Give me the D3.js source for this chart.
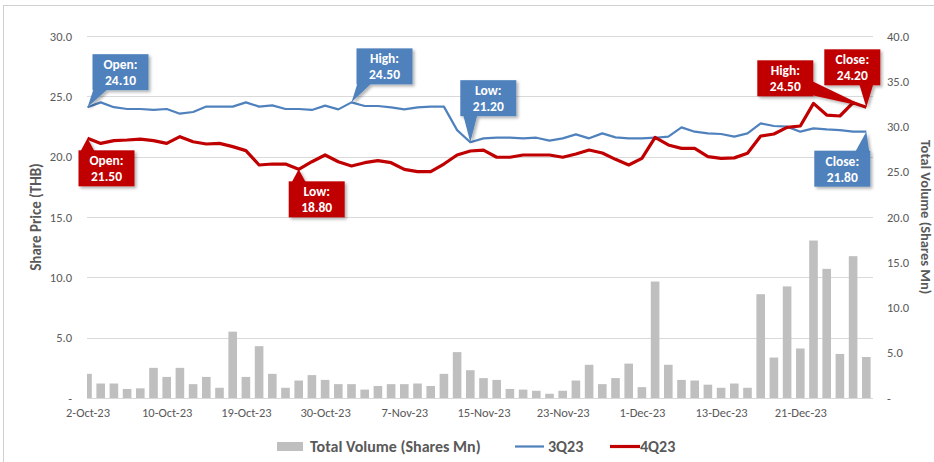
<!DOCTYPE html>
<html>
<head>
<meta charset="utf-8">
<script src="https://cdn.jsdelivr.net/npm/d3@7"></script>
<style>
  body { margin: 0; background: #fff; }
  text { font-family: Calibri, Carlito, "Liberation Sans", Arial, sans-serif; }
</style>
</head>
<body>
<svg id="chart"></svg>
<script>
// trading days, Q4 2023
var dates = ["2-Oct-23","3-Oct-23","4-Oct-23","5-Oct-23","6-Oct-23","9-Oct-23","10-Oct-23","11-Oct-23","12-Oct-23","16-Oct-23",
  "17-Oct-23","18-Oct-23","19-Oct-23","20-Oct-23","24-Oct-23","25-Oct-23","26-Oct-23","27-Oct-23","30-Oct-23","31-Oct-23",
  "1-Nov-23","2-Nov-23","3-Nov-23","6-Nov-23","7-Nov-23","8-Nov-23","9-Nov-23","10-Nov-23","13-Nov-23","14-Nov-23",
  "15-Nov-23","16-Nov-23","17-Nov-23","20-Nov-23","21-Nov-23","22-Nov-23","23-Nov-23","24-Nov-23","27-Nov-23","28-Nov-23",
  "29-Nov-23","30-Nov-23","1-Dec-23","4-Dec-23","6-Dec-23","7-Dec-23","8-Dec-23","12-Dec-23","13-Dec-23","14-Dec-23",
  "15-Dec-23","18-Dec-23","19-Dec-23","20-Dec-23","21-Dec-23","22-Dec-23","25-Dec-23","26-Dec-23","27-Dec-23","28-Dec-23"];

// total volume (shares mn) - right axis
var volume = [2.67,1.6,1.6,1.0,1.07,3.33,2.33,3.33,1.53,2.33,
  1.13,7.33,2.33,5.73,2.67,1.13,1.93,2.53,2.0,1.53,
  1.53,0.93,1.33,1.53,1.53,1.6,1.33,2.67,5.07,3.07,
  2.2,2.0,1.0,0.93,0.8,0.47,0.8,1.93,3.67,1.53,
  2.2,3.8,1.2,12.87,3.67,2.0,1.93,1.47,1.13,1.6,
  1.13,11.47,4.47,12.33,5.47,17.4,14.27,4.87,15.67,4.53];

// share price (THB) - left axis
var price3Q = [24.1,24.5,24.1,23.95,23.95,23.87,23.95,23.56,23.7,24.15,
  24.15,24.15,24.5,24.15,24.25,23.95,23.95,23.87,24.23,23.92,
  24.5,24.2,24.2,24.09,23.92,24.09,24.15,24.15,22.2,21.2,
  21.52,21.57,21.57,21.52,21.57,21.33,21.52,21.85,21.52,21.93,
  21.6,21.52,21.52,21.57,21.66,22.43,22.07,21.93,21.88,21.66,
  21.93,22.76,22.54,22.49,22.07,22.35,22.26,22.2,22.07,22.07];

var price4Q = [21.52,21.1,21.33,21.38,21.46,21.33,21.1,21.66,21.24,21.05,
  21.1,20.83,20.5,19.31,19.39,19.39,18.95,19.58,20.14,19.58,
  19.23,19.5,19.67,19.5,18.95,18.76,18.76,19.39,20.14,20.47,
  20.55,19.95,19.95,20.14,20.14,20.14,19.95,20.22,20.55,20.3,
  19.78,19.31,19.86,21.6,20.97,20.69,20.69,20.0,19.86,19.9,
  20.28,21.71,21.88,22.43,22.54,24.42,23.45,23.37,24.47,24.09];

var leftTicks = [0, 5, 10, 15, 20, 25, 30];
var rightTicks = [0, 5, 10, 15, 20, 25, 30, 35, 40];

// callout labels
var calloutText = [
  { s: "3Q23", i: 0,  t: "Open:",  v: "24.10" },
  { s: "3Q23", i: 20, t: "High:",  v: "24.50" },
  { s: "3Q23", i: 29, t: "Low:",   v: "21.20" },
  { s: "3Q23", i: 59, t: "Close:", v: "21.80" },
  { s: "4Q23", i: 0,  t: "Open:",  v: "21.50" },
  { s: "4Q23", i: 16, t: "Low:",   v: "18.80" },
  { s: "4Q23", i: 59, t: "High:",  v: "24.50" },
  { s: "4Q23", i: 59, t: "Close:", v: "24.20" }
];
// where each callout box sits relative to its point
var calloutPos = [
  { dx: 33, dy: -35, side: "bottom" },
  { dx: 33, dy: -36, side: "bottom" },
  { dx: 18, dy: -44, side: "bottom" },
  { dx: -24, dy: 37, side: "top" },
  { dx: 19, dy: 30, side: "top" },
  { dx: 18, dy: 30, side: "top" },
  { dx: -81, dy: -29, side: "right" },
  { dx: -14, dy: -40, side: "bottom" }
];

var width = 934, height = 462;
var plot = { left: 87, right: 873, top: 36, bottom: 398 };
var grey = "#595959", blue = "#4F81BD", red = "#C00000";

var svg = d3.select("#chart")
  .attr("width", width)
  .attr("height", height);

var defs = svg.append("defs");
var shadow = defs.append("filter").attr("id", "shadow")
  .attr("x", "-20%").attr("y", "-20%").attr("width", "150%").attr("height", "150%");
shadow.append("feDropShadow")
  .attr("dx", 2).attr("dy", 2)
  .attr("stdDeviation", 1.5)
  .attr("flood-color", "#000")
  .attr("flood-opacity", 0.3);

// chart border
svg.append("rect")
  .attr("x", 3.5).attr("y", 5.5)
  .attr("width", 940).attr("height", 470)
  .attr("fill", "#fff")
  .attr("stroke", "#D0D0D0");

var x = d3.scalePoint()
  .domain(dates)
  .range([87.5, 866.3]);

var yL = d3.scaleLinear().domain([0, 30]).range([plot.bottom, plot.top]);
var yR = d3.scaleLinear().domain([0, 40]).range([plot.bottom, plot.top]);

// gridlines
svg.append("g")
  .selectAll("line")
  .data(leftTicks.slice(1))
  .enter().append("line")
  .attr("x1", plot.left).attr("x2", plot.right)
  .attr("y1", function(d) { return Math.round(yL(d)) + 0.5; })
  .attr("y2", function(d) { return Math.round(yL(d)) + 0.5; })
  .attr("stroke", "#D9D9D9");

// volume bars (clipped at plot edges like excel)
defs.append("clipPath").attr("id", "plotclip")
  .append("rect")
  .attr("x", plot.left).attr("y", 0)
  .attr("width", plot.right - plot.left).attr("height", plot.bottom);

var barW = 8.6;
svg.append("g")
  .attr("clip-path", "url(#plotclip)")
  .selectAll("rect")
  .data(volume)
  .enter().append("rect")
  .attr("x", function(d, i) { return x(dates[i]) - barW / 2; })
  .attr("y", function(d) { return yR(d); })
  .attr("width", barW)
  .attr("height", function(d) { return plot.bottom - yR(d); })
  .attr("fill", "#BFBFBF");

// baseline
svg.append("line")
  .attr("x1", plot.left).attr("x2", plot.right)
  .attr("y1", plot.bottom + 0.5).attr("y2", plot.bottom + 0.5)
  .attr("stroke", "#D9D9D9");

// axes
function fmt(d) { return d === 0 ? "-" : d3.format(".1f")(d); }

var axL = svg.append("g")
  .attr("transform", "translate(" + plot.left + ",0)")
  .call(d3.axisLeft(yL).tickValues(leftTicks).tickSize(0).tickPadding(15).tickFormat(fmt));

var axR = svg.append("g")
  .attr("transform", "translate(" + plot.right + ",0)")
  .call(d3.axisRight(yR).tickValues(rightTicks).tickSize(0).tickPadding(14).tickFormat(fmt));

var axB = svg.append("g")
  .attr("transform", "translate(0," + plot.bottom + ")")
  .call(d3.axisBottom(x)
    .tickValues(dates.filter(function(d, i) { return i % 6 === 0; }))
    .tickSize(0).tickPadding(10));

[axL, axR, axB].forEach(function(a) {
  a.select(".domain").remove();
  a.selectAll("text")
    .attr("fill", grey)
    .style("font-size", "12.5px")
    .style("font-family", "Calibri, Carlito, 'Liberation Sans', Arial, sans-serif");
});

// axis titles
svg.append("text")
  .attr("transform", "translate(41,217) rotate(-90)")
  .attr("text-anchor", "middle")
  .attr("fill", grey)
  .style("font-size", "15px")
  .style("font-weight", "bold")
  .text("Share Price (THB)");

svg.append("text")
  .attr("transform", "translate(921,217) rotate(90)")
  .attr("text-anchor", "middle")
  .attr("fill", grey)
  .style("font-size", "14.5px")
  .style("font-weight", "bold")
  .text("Total Volume (Shares Mn)");

// price lines
var line = d3.line()
  .x(function(d, i) { return x(dates[i]); })
  .y(function(d) { return yL(d); });

svg.append("path")
  .datum(price3Q)
  .attr("d", line)
  .attr("fill", "none")
  .attr("stroke", blue)
  .attr("stroke-width", 2.2)
  .attr("stroke-linejoin", "round");

svg.append("path")
  .datum(price4Q)
  .attr("d", line)
  .attr("fill", "none")
  .attr("stroke", red)
  .attr("stroke-width", 3.2)
  .attr("stroke-linejoin", "round");

// callouts
function clamp(v, a, b) { return Math.max(a, Math.min(b, v)); }

calloutText.forEach(function(c, k) {
  var p = calloutPos[k];
  var series = c.s === "3Q23" ? price3Q : price4Q;
  var color = c.s === "3Q23" ? blue : red;
  var tx = x(dates[c.i]), ty = yL(series[c.i]);
  var cx = tx + p.dx, cy = ty + p.dy;
  var w = 56, h = 36;
  var x0 = cx - w / 2, x1 = cx + w / 2, y0 = cy - h / 2, y1 = cy + h / 2;
  var base;
  if (p.side === "bottom" || p.side === "top") {
    var bx = clamp(tx, x0 + 8, x1 - 8), by = p.side === "bottom" ? y1 - 1 : y0 + 1;
    base = [[bx - 7, by], [bx + 7, by]];
  } else {
    var yy = clamp(ty, y0 + 8, y1 - 8), xx = p.side === "right" ? x1 - 1 : x0 + 1;
    base = [[xx, yy - 7], [xx, yy + 7]];
  }
  var g = svg.append("g").attr("filter", "url(#shadow)");
  g.append("rect")
    .attr("x", x0).attr("y", y0)
    .attr("width", w).attr("height", h)
    .attr("fill", color);
  g.append("path")
    .attr("d", "M" + base[0] + "L" + base[1] + "L" + [tx, ty] + "Z")
    .attr("fill", color);
  svg.append("text")
    .attr("x", cx).attr("y", cy - 3)
    .attr("text-anchor", "middle")
    .attr("fill", "#fff")
    .style("font-size", "13.5px")
    .style("font-weight", "bold")
    .text(c.t);
  svg.append("text")
    .attr("x", cx).attr("y", cy + 13)
    .attr("text-anchor", "middle")
    .attr("fill", "#fff")
    .style("font-size", "13.5px")
    .style("font-weight", "bold")
    .text(c.v);
});

// legend
var legend = svg.append("g");
legend.append("rect")
  .attr("x", 277).attr("y", 442)
  .attr("width", 26).attr("height", 9)
  .attr("fill", "#BFBFBF");
legend.append("line")
  .attr("x1", 515).attr("x2", 544).attr("y1", 446.5).attr("y2", 446.5)
  .attr("stroke", blue).attr("stroke-width", 2.2);
legend.append("line")
  .attr("x1", 610).attr("x2", 640).attr("y1", 446.5).attr("y2", 446.5)
  .attr("stroke", red).attr("stroke-width", 3.2);
legend.selectAll("text")
  .data([["Total Volume (Shares Mn)", 310], ["3Q23", 548], ["4Q23", 640]])
  .enter().append("text")
  .attr("x", function(d) { return d[1]; })
  .attr("y", 452)
  .attr("fill", grey)
  .style("font-size", "16px")
  .style("font-weight", "bold")
  .text(function(d) { return d[0]; });
</script>
</body>
</html>
